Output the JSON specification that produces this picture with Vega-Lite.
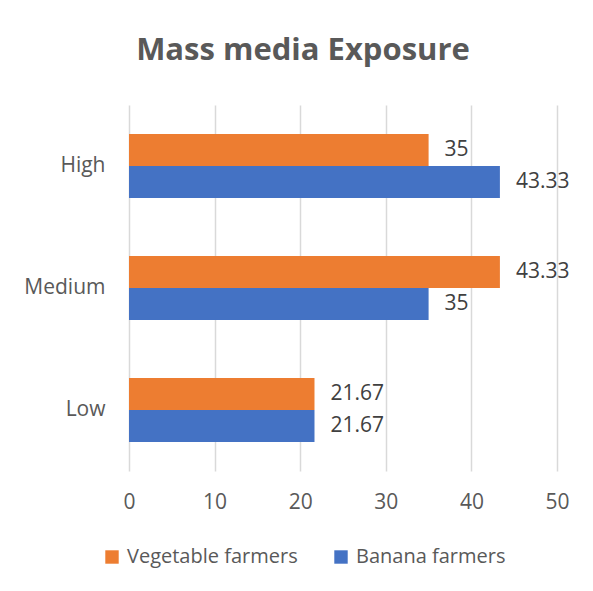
{
  "$schema": "https://vega.github.io/schema/vega-lite/v6.json",
  "width": 428,
  "height": 366,
  "autosize": "none",
  "padding": {"left": 129, "top": 105, "right": 36, "bottom": 120},
  "background": "white",
  "title": {
    "text": "Mass media Exposure",
    "font": "Open Sans",
    "fontSize": 31,
    "fontWeight": "bold",
    "color": "#595959",
    "anchor": "middle",
    "baseline": "alphabetic",
    "offset": 14,
    "dx": -40
  },
  "data": {
    "values": [
      {"level": "High", "group": "Vegetable farmers", "pct": 35},
      {"level": "High", "group": "Banana farmers", "pct": 43.33},
      {"level": "Medium", "group": "Vegetable farmers", "pct": 43.33},
      {"level": "Medium", "group": "Banana farmers", "pct": 35},
      {"level": "Low", "group": "Vegetable farmers", "pct": 21.67},
      {"level": "Low", "group": "Banana farmers", "pct": 21.67}
    ]
  },
  "encoding": {
    "y": {
      "field": "level",
      "type": "nominal",
      "sort": ["High", "Medium", "Low"],
      "scale": {"paddingInner": 0.475, "paddingOuter": 0.2375},
      "axis": {
        "title": null,
        "domain": false,
        "ticks": false,
        "grid": false,
        "labelPadding": 24,
        "labelFont": "Open Sans",
        "labelFontSize": 21,
        "labelColor": "#595959"
      }
    },
    "yOffset": {
      "field": "group",
      "type": "nominal",
      "sort": ["Vegetable farmers", "Banana farmers"],
      "scale": {"paddingInner": 0, "paddingOuter": 0}
    },
    "x": {
      "field": "pct",
      "type": "quantitative",
      "scale": {"domain": [0, 50], "nice": false},
      "axis": {
        "title": null,
        "values": [0, 10, 20, 30, 40, 50],
        "domain": false,
        "ticks": false,
        "grid": true,
        "gridColor": "#D9D9D9",
        "gridWidth": 1.5,
        "labelPadding": 20,
        "labelFont": "Open Sans",
        "labelFontSize": 21,
        "labelColor": "#595959",
        "labelFlush": false
      }
    }
  },
  "layer": [
    {
      "mark": {"type": "bar"},
      "encoding": {
        "color": {
          "field": "group",
          "type": "nominal",
          "scale": {
            "domain": ["Vegetable farmers", "Banana farmers"],
            "range": ["#ED7D31", "#4472C4"]
          },
          "legend": {
            "title": null,
            "orient": "none",
            "direction": "horizontal",
            "legendX": -27,
            "legendY": 442,
            "symbolType": "square",
            "symbolSize": 180,
            "symbolStrokeWidth": 0,
            "symbolOpacity": 1,
            "labelFont": "Open Sans",
            "labelFontSize": 20,
            "labelColor": "#595959",
            "labelOffset": 5,
            "columnPadding": 33,
            "labelLimit": 300
          }
        }
      }
    },
    {
      "mark": {
        "type": "text",
        "align": "left",
        "baseline": "middle",
        "dx": 16,
        "font": "Open Sans",
        "fontSize": 21,
        "color": "#404040"
      },
      "encoding": {
        "text": {"field": "pct", "type": "quantitative", "format": ".4~g"}
      }
    }
  ],
  "config": {
    "view": {"stroke": null}
  }
}
